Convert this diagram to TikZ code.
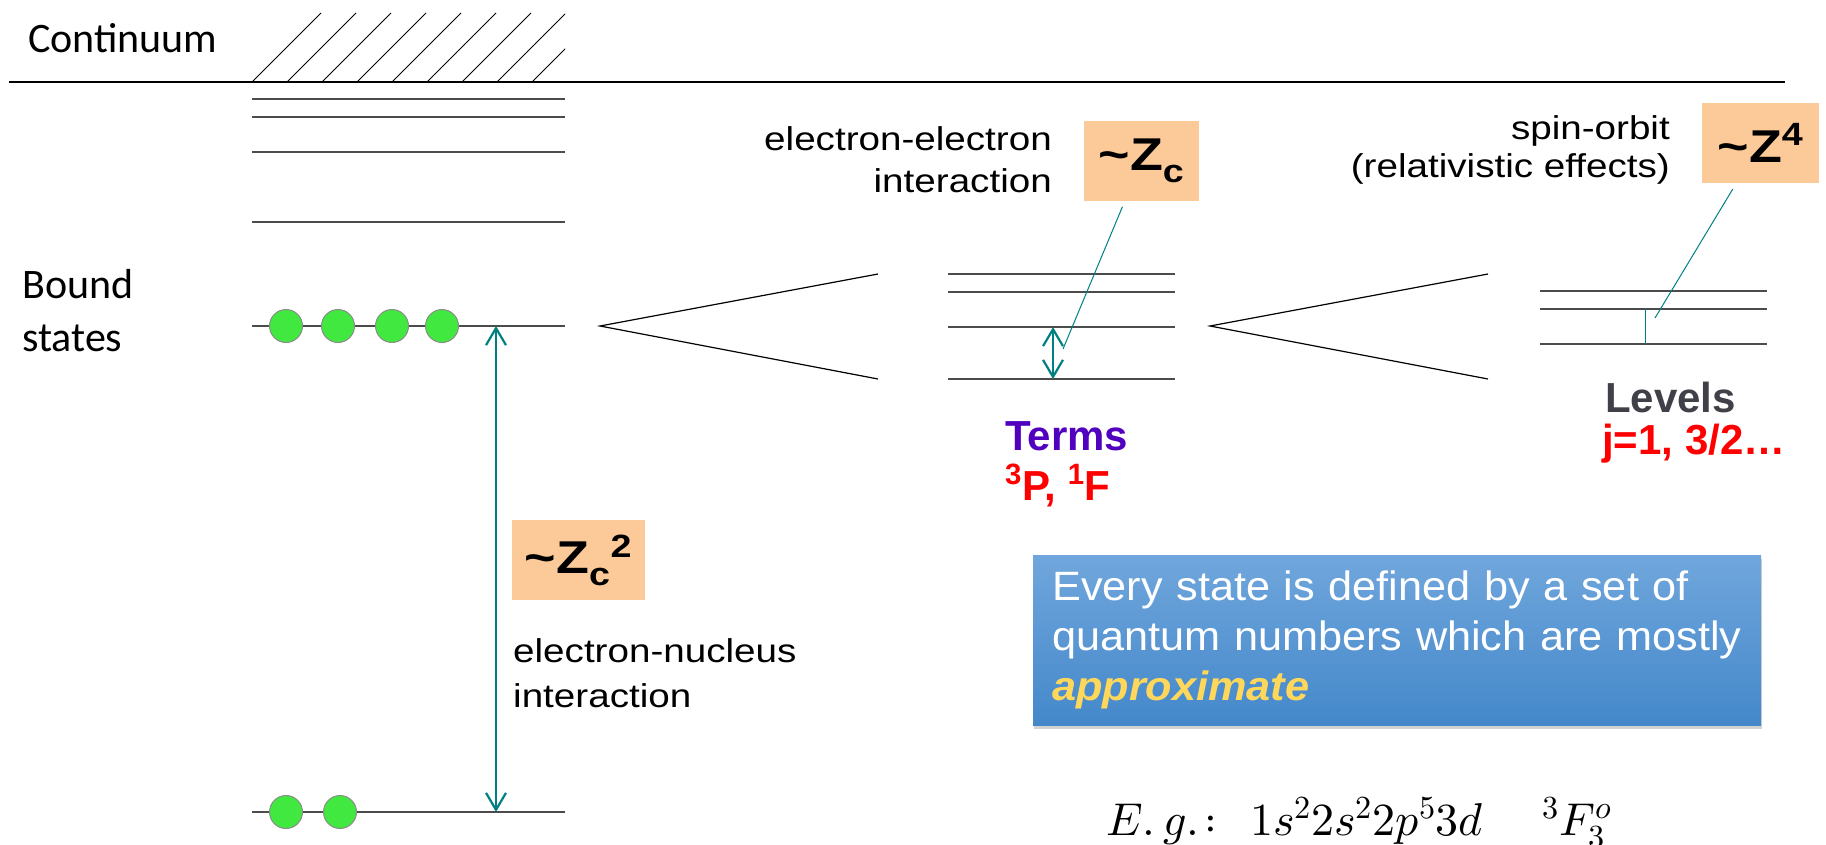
\documentclass[tikz,border=0pt]{standalone}
\usepackage{fontspec}
\usepackage{unicode-math}
\setmainfont{Liberation Sans}
\setmathfont{Latin Modern Math}
\newfontfamily\annfont[FakeStretch=1.17]{Liberation Sans}
\newfontfamily\boxfont[FakeStretch=1.055]{Liberation Sans}
\newfontfamily\califont{Carlito}
\usetikzlibrary{arrows.meta, shadows}

\definecolor{tealline}{RGB}{0,128,128}
\definecolor{peach}{RGB}{252,202,152}
\definecolor{elgreen}{RGB}{64,232,64}
\definecolor{termpurple}{RGB}{80,0,190}
\definecolor{levgray}{RGB}{64,64,72}
\definecolor{boxtop}{RGB}{112,166,220}
\definecolor{boxbot}{RGB}{68,136,202}
\definecolor{approxyellow}{RGB}{255,215,90}

\begin{document}
\begin{tikzpicture}[x=1pt, y=-1pt, >={Straight Barb[length=17pt, width=20pt]},
    level/.style={line width=1.6pt, black!70},
    split/.style={line width=1.2pt},
    electron/.style={circle, fill=elgreen, draw=black!45, line width=1pt, minimum size=33pt, inner sep=0pt},
    gap/.style={<->, tealline, line width=2.2pt},
    leader/.style={tealline, line width=1pt},
    zbox/.style={fill=peach, inner sep=0pt, font=\annfont\bfseries\fontsize{46}{50}\selectfont},
    note/.style={inner sep=0pt, font=\annfont\fontsize{33}{42}\selectfont},
    caption/.style={anchor=base west, inner sep=0pt, font=\bfseries\fontsize{42}{50}\selectfont}]
    \useasboundingbox (0,0) rectangle (1826,844);

    % 1. 连续谱
    \node[anchor=base west, inner sep=0pt, font=\califont\fontsize{42}{50}\selectfont] (cont) at (28,52) {Continuum};
    \draw[line width=1.8pt] (9,82) -- (1785,82);
    \begin{scope}
        \clip (252,10) rectangle (565,82);
        \foreach \k in {0,...,8}
            \draw[line width=1pt] (252+35*\k,82) -- (321+35*\k,13);
    \end{scope}
    \foreach \y in {99,117,152,222}
        \draw[level] (252,\y) -- (565,\y);

    % 2. 束缚态
    \node[anchor=base west, align=left, inner sep=0pt, font=\califont\fontsize{42}{53}\selectfont] (bound) at (22,351) {Bound\\states};
    \draw[level] (252,326) -- (565,326);
    \draw[level] (252,812) -- (565,812);
    \foreach \x in {286,338,392,442}
        \node[electron] at (\x,326) {};
    \foreach \x in {286,340}
        \node[electron] at (\x,812) {};
    \coordinate (ntop) at (496,326);
    \coordinate (nbot) at (496,812);
    \draw[gap] (ntop) -- (nbot);
    \node[zbox, minimum width=133pt, minimum height=80pt] (zc2) at (578.5,560) {\textasciitilde Z\textsubscript{c}\textsuperscript{2}};
    \node[note, anchor=base west, align=left, font=\annfont\fontsize{33}{45}\selectfont] (enlab) at (513,707) {electron-nucleus\\interaction};

    % 3. 光谱项
    \draw[split] (878,274) -- (600,326) -- (878,379);
    \foreach \y in {274,292,327,379}
        \draw[level] (948,\y) -- (1175,\y);
    \coordinate (tA) at (1053,327);
    \coordinate (tB) at (1053,379);
    \draw[gap] (tA) -- (tB);
    \node[note, anchor=base east, align=right] (eelab) at (1052,192) {electron-electron\\interaction};
    \node[zbox, minimum width=115pt, minimum height=80pt] (zc) at (1141.5,161) {\textasciitilde Z\textsubscript{c}};
    \coordinate (eetip) at (1063,349);
    \draw[leader, shorten <=6pt] (zc) -- (eetip);
    \node[caption, text=termpurple] (terms) at (1005,450) {Terms};
    \node[caption, text=red] (termsym) at (1005,500) {\textsuperscript{3}P, \textsuperscript{1}F};

    % 4. 能级
    \draw[split] (1488,274) -- (1210,326) -- (1488,379);
    \foreach \y in {291,309,344}
        \draw[level] (1540,\y) -- (1767,\y);
    \coordinate (lA) at (1645,309);
    \coordinate (lB) at (1645,344);
    \draw[leader] (lA) -- (lB);
    \node[note, anchor=base east, align=right, font=\annfont\fontsize{33}{38}\selectfont] (solab) at (1670,177) {spin-orbit\\(relativistic effects)};
    \node[zbox, minimum width=117pt, minimum height=80pt] (z4) at (1760.5,143) {\textasciitilde Z\textsuperscript{4}};
    \coordinate (sotip) at (1655,318);
    \draw[leader, shorten <=7pt] (z4) -- (sotip);
    \node[caption, text=levgray] (levels) at (1605,412) {Levels};
    \node[caption, text=red] (jval) at (1602,454) {j=1, 3/2…};

    % 5. 说明框与例子
    \node[anchor=north west, minimum width=728pt, minimum height=170pt, text width=690pt, inner xsep=19pt,
          align=left, top color=boxtop, bottom color=boxbot, text=white,
          drop shadow={shadow xshift=1pt, shadow yshift=-4pt, opacity=0.35},
          font=\boxfont\fontsize{41}{50}\selectfont] (info) at (1033,555)
        {Every state is defined by a set of\\quantum numbers which are mostly\\{\bfseries\itshape\color{approxyellow}approximate}};
    \node[anchor=base west, inner sep=0pt, font=\fontsize{46}{52}\selectfont] (eg) at (1106,835)
        {$E.\,g.\!:\;\, 1s^2 2s^2 2p^5 3d\quad\; {}^3F^{o}_{3}$};
\end{tikzpicture}
\end{document}
